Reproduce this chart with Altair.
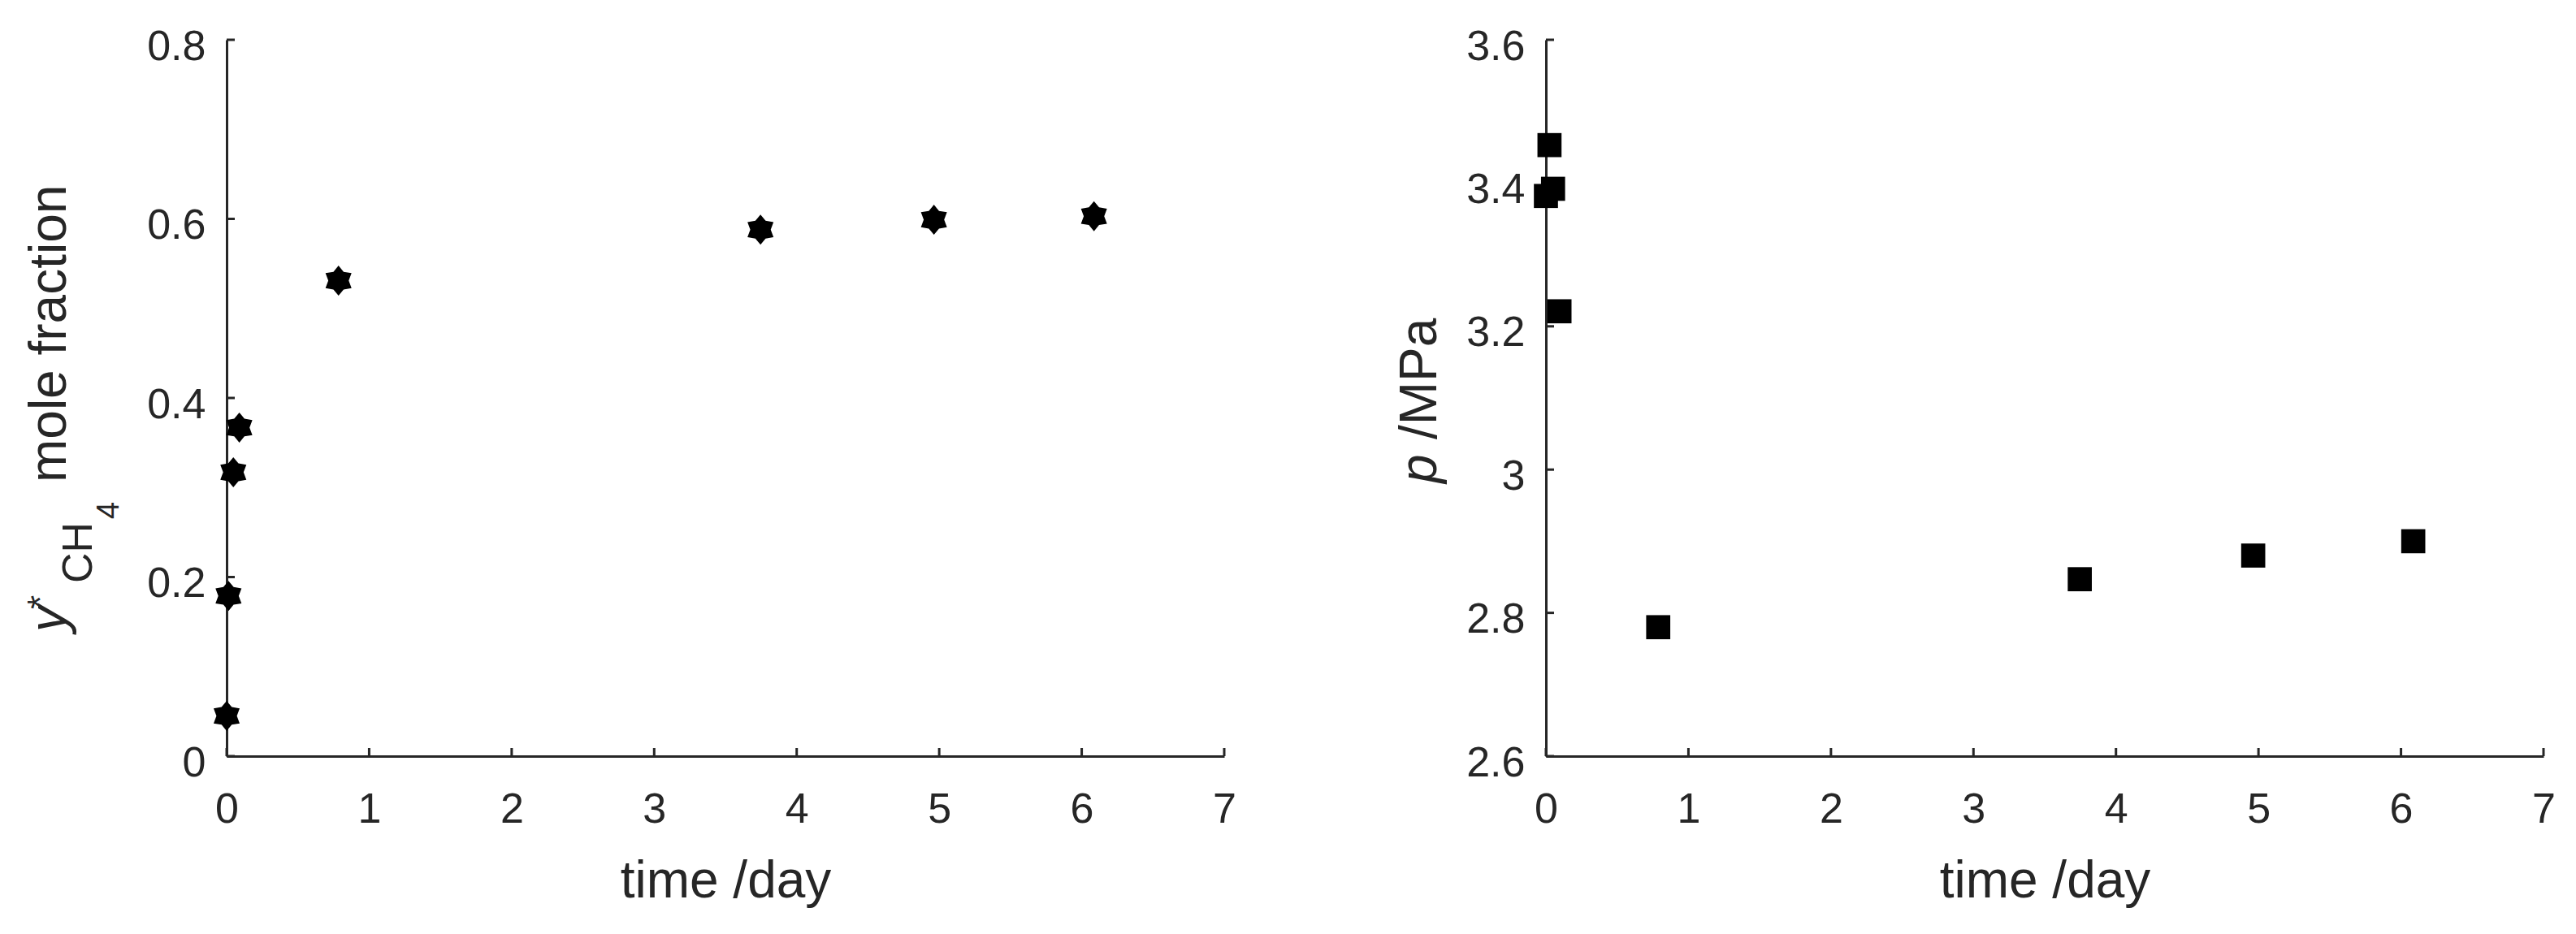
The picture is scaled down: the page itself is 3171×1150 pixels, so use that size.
import altair as alt
import pandas as pd

# ---------------- data ----------------
time_ch4 = [0.0, 0.013, 0.047, 0.089, 0.785, 3.746, 4.963, 6.086]
y_ch4 = [0.045, 0.179, 0.317, 0.367, 0.531, 0.588, 0.599, 0.603]
time_p = [0.0, 0.025, 0.050, 0.095, 0.788, 3.746, 4.963, 6.086]
p_mpa = [3.382, 3.453, 3.392, 3.221, 2.780, 2.847, 2.880, 2.900]
x_ticks = [0, 1, 2, 3, 4, 5, 6, 7]
y_ticks_left = [0, 0.2, 0.4, 0.6, 0.8]
y_ticks_right = [2.6, 2.8, 3, 3.2, 3.4, 3.6]
x_title = "time /day"
left_title_texts = ["y", "*", "CH", "4", "mole fraction"]
right_title_texts = ["p", "/MPa"]

# ---------------- styling ----------------
FONT = "Liberation Sans"
DARK = "#262626"
W, H = 1228, 882
HEXAGRAM = ("M0,-1 L0.34,-0.589 L0.866,-0.5 L0.68,0 L0.866,0.5 L0.34,0.589 "
            "L0,1 L-0.34,0.589 L-0.866,0.5 L-0.68,0 L-0.866,-0.5 L-0.34,-0.589 Z")

left_title_style = [  # (size, style, x, y) relative to plot origin
    (64, "italic", -197.7, 729),
    (44, "normal", -213.7, 701),
    (52, "normal", -165.7, 669),
    (38, "normal", -132.7, 590),
    (64, "normal", -197.7, 545),
]
right_title_style = [
    (64, "italic", -135.0, 546),
    (64, "normal", -135.0, 492),
]


def panel(times, vals, ydomain, yticks, shape, size, titles, styles, left_anchor):
    df = pd.DataFrame({"time": times, "val": vals})
    xs = alt.Scale(domain=[0, 7], nice=False, zero=False)
    ys = alt.Scale(domain=ydomain, nice=False, zero=False)
    xax = alt.Axis(values=x_ticks, format="~g", ticks=False, tickSize=0, grid=False,
                   domainColor=DARK, domainWidth=3, labelFont=FONT, labelFontSize=52,
                   labelColor=DARK, labelPadding=40, labelFlush=False, labelOverlap=False,
                   title=x_title, titleFont=FONT, titleFontSize=64, titleColor=DARK,
                   titleFontWeight="normal", titleY=173, titleBaseline="alphabetic")
    yax = alt.Axis(values=yticks, format="~g", ticks=False, tickSize=0, grid=False,
                   domainColor=DARK, domainWidth=3, labelFont=FONT, labelFontSize=52,
                   labelColor=DARK, labelPadding=26, labelOffset=8, labelFlush=False,
                   labelOverlap=False, title=None)

    xt = alt.Chart(pd.DataFrame({"time": x_ticks})).mark_rule(
        color=DARK, strokeWidth=3).encode(
        x=alt.X("time:Q", scale=xs, axis=xax), y=alt.value(H), y2=alt.value(H - 10))
    yt = alt.Chart(pd.DataFrame({"val": yticks})).mark_rule(
        color=DARK, strokeWidth=3).encode(
        y=alt.Y("val:Q", scale=ys, axis=yax), x=alt.value(0), x2=alt.value(10))
    pts = alt.Chart(df).mark_point(
        shape=shape, filled=True, size=size, color="black", opacity=1, strokeWidth=0).encode(
        x=alt.X("time:Q", scale=xs, axis=xax), y=alt.Y("val:Q", scale=ys, axis=yax))

    texts = []
    for t, (fs, st, tx, ty) in zip(titles, styles):
        texts.append(
            alt.Chart(pd.DataFrame({"t": [t]})).mark_text(
                angle=270, align="left", baseline="alphabetic", font=FONT,
                fontSize=fs, fontStyle=st, color=DARK).encode(
                x=alt.value(tx), y=alt.value(ty), text="t:N"))

    anc_l = alt.Chart(pd.DataFrame({"a": [0]})).mark_rule(color="white", strokeWidth=1).encode(
        x=alt.value(left_anchor), x2=alt.value(left_anchor + 1),
        y=alt.value(-40), y2=alt.value(-39))
    anc_r = alt.Chart(pd.DataFrame({"a": [0]})).mark_rule(color="white", strokeWidth=1).encode(
        x=alt.value(W + 20), x2=alt.value(W + 21),
        y=alt.value(-40), y2=alt.value(-39))

    return alt.layer(yt, xt, pts, *texts, anc_l, anc_r).properties(width=W, height=H)


left = panel(time_ch4, y_ch4, [0, 0.8], y_ticks_left, HEXAGRAM, 1369,
             left_title_texts, left_title_style, -269.7)
right = panel(time_p, p_mpa, [2.6, 3.6], y_ticks_right, "square", 880,
              right_title_texts, right_title_style, -372.6)

chart = alt.hconcat(left, right, spacing=0, padding=0).configure_view(stroke="transparent")
chart.save("out.html", embed_options={"renderer": "svg", "actions": False})
